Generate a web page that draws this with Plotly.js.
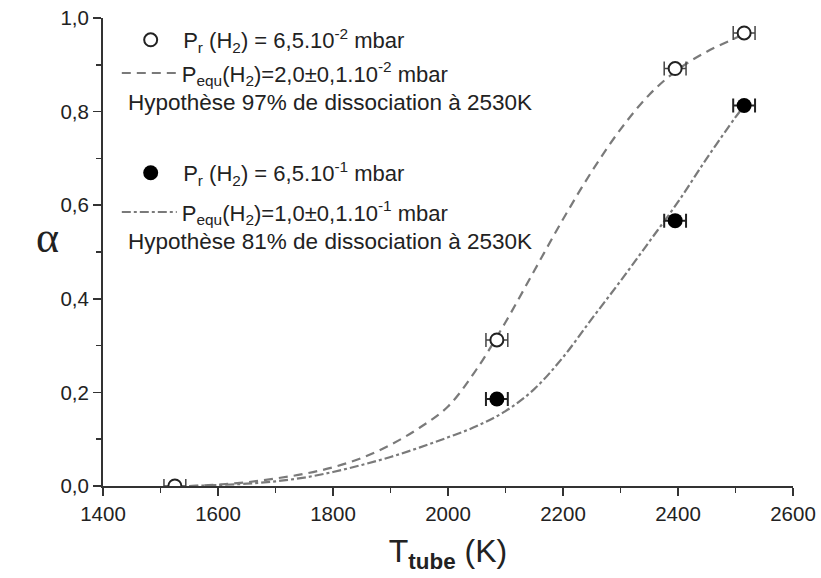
<!DOCTYPE html>
<html><head><meta charset="utf-8">
<script src="https://cdn.plot.ly/plotly-3.0.1.min.js"></script>
<style>body{margin:0;background:#fff}#c{width:821px;height:578px}</style>
</head><body><div id="c"></div>
<script>
// measured points (low pressure, open circles)
const tOpen = [1525, 2085, 2395, 2515];
const aOpen = [0.0, 0.312, 0.892, 0.968];
// measured points (high pressure, filled circles)
const tFill = [2085, 2395, 2515];
const aFill = [0.186, 0.567, 0.813];
// x error (K)
const errOpen = [19, 19, 19, 19];
const errFill = [19, 19, 19];
// equilibrium curves
const tCurve = [1550,1600,1650,1700,1750,1800,1850,1900,1950,2000,2050,2100,2150,2200,2250,2300,2350,2400,2450,2500,2515];
const aDash  = [0.0,0.003,0.008,0.016,0.026,0.040,0.060,0.088,0.124,0.170,0.250,0.350,0.460,0.570,0.672,0.762,0.836,0.890,0.928,0.957,0.965];
const aDashDot = [0.0,0.002,0.005,0.010,0.018,0.030,0.045,0.062,0.082,0.104,0.128,0.160,0.207,0.275,0.357,0.438,0.522,0.607,0.700,0.788,0.812];
// labels
const lab1 = 'P<sub>r</sub> (H<sub>2</sub>) = 6,5.10<sup>-2</sup> mbar';
const lab2 = 'P<sub>equ</sub>(H<sub>2</sub>)=2,0±0,1.10<sup>-2</sup> mbar';
const lab3 = 'P<sub>r</sub> (H<sub>2</sub>) = 6,5.10<sup>-1</sup> mbar';
const lab4 = 'P<sub>equ</sub>(H<sub>2</sub>)=1,0±0,1.10<sup>-1</sup> mbar';
const hyp1 = 'Hypothèse 97% de dissociation à 2530K';
const hyp2 = 'Hypothèse 81% de dissociation à 2530K';

const F = 'Liberation Sans, Arial, sans-serif';
const traces = [
  {x: tCurve, y: aDash, mode: 'lines', name: lab2, legend: 'legend2',
   line: {color: '#7a7a7a', width: 2.2, dash: '9px,6px', shape: 'spline', smoothing: 1}},
  {x: tCurve, y: aDashDot, mode: 'lines', name: lab4, legend: 'legend4',
   line: {color: '#7a7a7a', width: 2.2, dash: 'dashdot', shape: 'spline', smoothing: 1}},
  {x: tOpen, y: aOpen, mode: 'markers', name: lab1, legend: 'legend',
   marker: {symbol: 'circle', size: 13, color: '#fff', line: {color: '#222', width: 2}},
   error_x: {type: 'data', array: errOpen, visible: true, color: '#444', thickness: 1.5, width: 7}},
  {x: tFill, y: aFill, mode: 'markers', name: lab3, legend: 'legend3',
   marker: {symbol: 'circle', size: 15, color: '#000'},
   error_x: {type: 'data', array: errFill, visible: true, color: '#222', thickness: 2, width: 7}}
];
const legBase = {xanchor: 'left', yanchor: 'middle', bgcolor: 'rgba(0,0,0,0)',
  font: {family: F, size: 22, color: '#222'}, itemwidth: 55};
const layout = {
  width: 821, height: 578,
  margin: {l: 103, r: 28, t: 18, b: 92},
  paper_bgcolor: '#fff', plot_bgcolor: '#fff',
  separators: ', ',
  showlegend: true,
  legend:  Object.assign({}, legBase, {x: 0.022, y: 0.953}),
  legend2: Object.assign({}, legBase, {x: 0.020, y: 0.882}),
  legend3: Object.assign({}, legBase, {x: 0.022, y: 0.669}),
  legend4: Object.assign({}, legBase, {x: 0.020, y: 0.585}),
  xaxis: {range: [1400, 2600], tick0: 1400, dtick: 200, showgrid: false, zeroline: false,
    showline: true, linecolor: '#333', linewidth: 2, ticks: 'outside', ticklen: 8, tickwidth: 1.5, tickcolor: '#333',
    minor: {dtick: 100, ticks: 'outside', ticklen: 5, tickwidth: 1.5, tickcolor: '#333'},
    tickfont: {family: F, size: 20.5, color: '#222'},
    title: {text: 'T<sub><b>tube</b></sub> (K)', font: {family: F, size: 32, color: '#222'}, standoff: 16}},
  yaxis: {range: [0, 1.0], dtick: 0.2, tickformat: '.1f', showgrid: false, zeroline: false,
    showline: true, linecolor: '#333', linewidth: 2, ticks: 'outside', ticklen: 8, tickwidth: 1.5, tickcolor: '#333',
    minor: {dtick: 0.1, ticks: 'outside', ticklen: 5, tickwidth: 1.5, tickcolor: '#333'},
    tickfont: {family: F, size: 20.5, color: '#222'}},
  annotations: [
    {text: hyp1, xref: 'paper', yref: 'paper', x: 0.034, y: 0.82, xanchor: 'left', yanchor: 'middle', showarrow: false,
     font: {family: F, size: 22.5, color: '#222'}},
    {text: hyp2, xref: 'paper', yref: 'paper', x: 0.034, y: 0.523, xanchor: 'left', yanchor: 'middle', showarrow: false,
     font: {family: F, size: 22.5, color: '#222'}},
    {text: 'α', xref: 'paper', yref: 'paper', x: -0.081, y: 0.53, xanchor: 'center', yanchor: 'middle', showarrow: false,
     font: {family: 'Liberation Serif, Times New Roman, serif', size: 44, color: '#222'}}
  ]
};
Plotly.newPlot('c', traces, layout, {displayModeBar: false, staticPlot: true});
</script></body></html>
